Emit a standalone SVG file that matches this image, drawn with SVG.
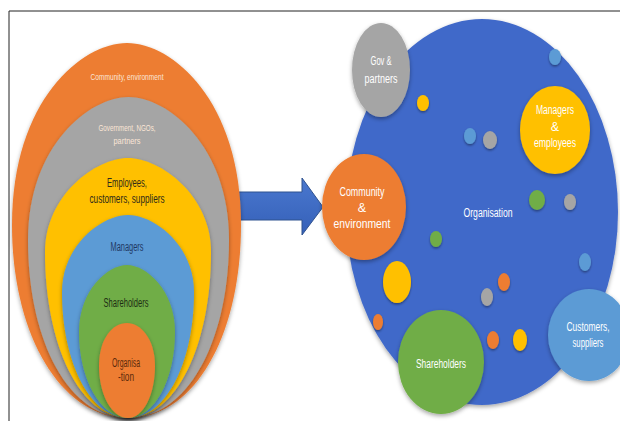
<svg xmlns="http://www.w3.org/2000/svg" width="620" height="421" viewBox="0 0 620 421">
<defs>
<filter id="sh" x="-20%" y="-20%" width="140%" height="140%">
<feDropShadow dx="0" dy="2" stdDeviation="2" flood-color="#000" flood-opacity="0.35"/>
</filter>
<filter id="shs" x="-40%" y="-40%" width="180%" height="180%">
<feDropShadow dx="0" dy="1.5" stdDeviation="1.2" flood-color="#000" flood-opacity="0.4"/>
</filter>
<linearGradient id="ag" x1="0" y1="0" x2="0" y2="1">
<stop offset="0" stop-color="#4a78cf"/>
<stop offset="1" stop-color="#3560b8"/>
</linearGradient>
</defs>
<style>
text{font-family:"Liberation Sans Narrow","Liberation Sans",Arial,sans-serif;text-anchor:middle}
.w{fill:#ffffff}
.lab{font-size:12.5px}
.sm{font-size:9px;fill:#fbe5d6}
.mid{font-size:12px}
.or{fill:#ed7d31}.gr{fill:#a5a5a5}.ye{fill:#ffc000}.lb{fill:#5b9bd5}.gn{fill:#70ad47}.db{fill:#4169c9}
.dot{filter:url(#shs)}
.big{filter:url(#sh)}
</style>
<rect width="620" height="421" fill="#ffffff"/>
<line x1="9" y1="11" x2="620" y2="11" stroke="#222" stroke-width="1"/>
<line x1="9" y1="11" x2="9" y2="421" stroke="#222" stroke-width="1"/>

<g id="connectors">
<path d="M236,192 L302,192 L302,178 L323,207 L302,235 L302,220 L236,220 Z" fill="url(#ag)" stroke="#2f528f" stroke-width="1"/>
</g>

<g id="left-layers">
<g id="n-community-env">
<path class="or big" d="M127,43 C172,43 241,100 241,225 C241,335 195,418 128,418 C61,418 12,335 12,225 C12,100 82,43 127,43 Z"/>
<text class="sm" x="127" y="80" textLength="73" lengthAdjust="spacingAndGlyphs">Community, environment</text>
</g>
<g id="n-government">
<path class="gr big" d="M128.5,97 C167,97 229,145 229,240 C229,340 188,418 128,418 C68,418 28,340 28,240 C28,145 90,97 128.5,97 Z"/>
<text class="sm" x="127" y="131" textLength="57" lengthAdjust="spacingAndGlyphs">Government, NGOs,</text>
<text class="sm" x="127" y="144" textLength="27" lengthAdjust="spacingAndGlyphs">partners</text>
</g>
<g id="n-employees">
<path class="ye big" d="M128,158 C160,158 211,195 211,252 C211,345 176,418 128,418 C80,418 45,345 45,252 C45,195 96,158 128,158 Z"/>
<text class="mid" x="127" y="187" fill="#2e2a1a" textLength="40" lengthAdjust="spacingAndGlyphs">Employees,</text>
<text class="mid" x="127" y="203" fill="#2e2a1a" textLength="75" lengthAdjust="spacingAndGlyphs">customers, suppliers</text>
</g>
<g id="n-managers">
<path class="lb big" d="M128,215 C154,215 194,245 194,292 C194,362 166,418 128,418 C90,418 62,362 62,292 C62,245 102,215 128,215 Z"/>
<text class="mid" x="127" y="251" fill="#1f3864" textLength="33" lengthAdjust="spacingAndGlyphs">Managers</text>
</g>
<g id="n-shareholders">
<path class="gn big" d="M127,265 C146,265 175,290 175,332 C175,380 154,418 128,418 C101,418 79,380 79,332 C79,290 108,265 127,265 Z"/>
<text class="mid" x="126" y="307" fill="#1e2e14" textLength="45" lengthAdjust="spacingAndGlyphs">Shareholders</text>
</g>
<g id="n-organisation-inner">
<path class="or big" d="M127,323 C140,323 155,338 155,366 C155,395 143,418 128,418 C112,418 99,395 99,366 C99,338 113,323 127,323 Z"/>
<text class="mid" x="126" y="367" fill="#5c2a0c" textLength="28" lengthAdjust="spacingAndGlyphs">Organisa</text>
<text class="mid" x="126" y="381" fill="#5c2a0c" textLength="16" lengthAdjust="spacingAndGlyphs">-tion</text>
</g>
</g>

<g id="right-org">
<g id="n-organisation">
<ellipse class="db big" cx="482" cy="212" rx="136" ry="193"/>
<text class="w lab" x="488" y="217" textLength="49" lengthAdjust="spacingAndGlyphs">Organisation</text>
</g>
<g id="dots">
<ellipse class="lb dot" cx="555" cy="57" rx="6" ry="8"/>
<ellipse class="ye dot" cx="423" cy="103" rx="6" ry="8"/>
<ellipse class="lb dot" cx="470" cy="136" rx="6" ry="8"/>
<ellipse class="gr dot" cx="490" cy="140" rx="7" ry="9"/>
<ellipse class="gn dot" cx="537" cy="200" rx="8" ry="10"/>
<ellipse class="gr dot" cx="570" cy="202" rx="6" ry="8"/>
<ellipse class="lb dot" cx="585" cy="262" rx="6" ry="9"/>
<ellipse class="gn dot" cx="436" cy="239" rx="6" ry="8"/>
<ellipse class="ye dot" cx="397" cy="282" rx="14" ry="21"/>
<ellipse class="or dot" cx="504" cy="282" rx="6" ry="9"/>
<ellipse class="gr dot" cx="487" cy="297" rx="6" ry="9"/>
<ellipse class="or dot" cx="378" cy="322" rx="5" ry="8"/>
<ellipse class="or dot" cx="493" cy="340" rx="6" ry="9"/>
<ellipse class="ye dot" cx="520" cy="340" rx="7" ry="11"/>
</g>
<g id="n-gov-partners">
<ellipse class="gr big" cx="381" cy="70" rx="29" ry="47"/>
<text class="w lab" x="381" y="65" textLength="21" lengthAdjust="spacingAndGlyphs">Gov &amp;</text>
<text class="w lab" x="381" y="83" textLength="33" lengthAdjust="spacingAndGlyphs">partners</text>
</g>
<g id="n-community">
<ellipse class="or big" cx="364" cy="207" rx="42" ry="53"/>
<text class="w lab" x="362" y="196" textLength="45" lengthAdjust="spacingAndGlyphs">Community</text>
<text class="w lab" x="362" y="212">&amp;</text>
<text class="w lab" x="362" y="228" textLength="57" lengthAdjust="spacingAndGlyphs">environment</text>
</g>
<g id="n-managers-employees">
<ellipse class="ye big" cx="555" cy="130" rx="35" ry="44"/>
<text class="w lab" x="555" y="114" textLength="38" lengthAdjust="spacingAndGlyphs">Managers</text>
<text class="w lab" x="555" y="131">&amp;</text>
<text class="w lab" x="555" y="147" textLength="42" lengthAdjust="spacingAndGlyphs">employees</text>
</g>
<g id="n-customers">
<ellipse class="lb big" cx="589" cy="335" rx="41" ry="46"/>
<text class="w lab" x="588" y="331" textLength="43" lengthAdjust="spacingAndGlyphs">Customers,</text>
<text class="w lab" x="588" y="347" textLength="31" lengthAdjust="spacingAndGlyphs">suppliers</text>
</g>
<g id="n-shareholders-r">
<ellipse class="gn big" cx="441" cy="362" rx="43" ry="52"/>
<text class="w lab" x="441" y="368" textLength="50" lengthAdjust="spacingAndGlyphs">Shareholders</text>
</g>
</g>
</svg>
